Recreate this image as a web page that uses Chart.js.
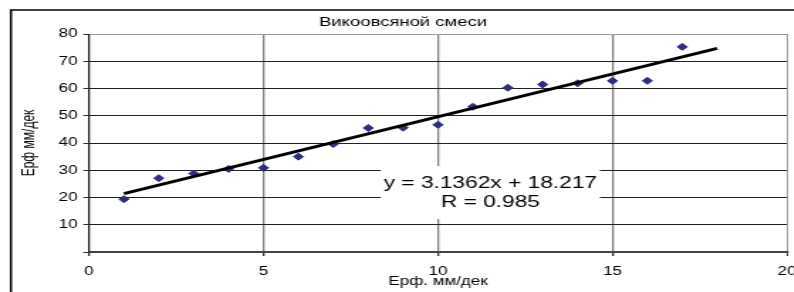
<!DOCTYPE html>
<html>
<head>
<meta charset="utf-8">
<script src="https://cdn.jsdelivr.net/npm/chart.js@4/dist/chart.umd.min.js"></script>
<style>
  html, body { margin: 0; padding: 0; background: #fff; overflow: hidden; }
  /* o original está esticado na horizontal, por isso o scaleX */
  #wrap { position: absolute; left: 0; top: 0; width: 575px; height: 292px; transform: scaleX(1.42); transform-origin: 0 0; }
</style>
</head>
<body>
<div id="wrap"><canvas id="grafico" width="575" height="292"></canvas></div>
<script>
// dados
const pontosX = [1, 2, 3, 4, 5, 6, 7, 8, 9, 10, 11, 12, 13, 14, 15, 16, 17];
const pontosY = [19.4, 27.1, 28.8, 30.5, 30.9, 35.0, 39.6, 45.5, 45.6, 46.7, 53.3, 60.3, 61.5, 61.9, 62.8, 62.8, 75.3];
const tendenciaX = [1, 18];
const tendenciaY = [21.4, 74.7];
const ticksX = [0, 5, 10, 15, 20];
const ticksY = [10, 20, 30, 40, 50, 60, 70, 80];
const titulo = "Викоовсяной смеси";
const tituloX = "Ерф. мм/дек";
const tituloY = "Ерф мм/дек";
const equacaoLinhas = ["y = 3.1362x + 18.217", "R = 0.985"];

const fonte = '"Liberation Sans", Arial, sans-serif';

const moldura = {
  id: "moldura",
  beforeDraw(chart) {
    const ctx = chart.ctx;
    ctx.save();
    ctx.fillStyle = "#fff";
    ctx.fillRect(0, 0, chart.width, chart.height);
    ctx.strokeStyle = "#000";
    ctx.lineWidth = 1.5;
    ctx.strokeRect(7.7, 10, chart.width + 20, chart.height + 20);
    ctx.restore();
  }
};

const etiquetaEquacao = {
  id: "etiquetaEquacao",
  afterDatasetsDraw(chart) {
    const { ctx, scales: { x, y } } = chart;
    const cx = x.getPixelForValue(11.5);
    const cy = y.getPixelForValue(21.8);
    ctx.save();
    ctx.font = "16px " + fonte;
    const w = Math.max(...equacaoLinhas.map(t => ctx.measureText(t).width)) + 4;
    ctx.fillStyle = "#fff";
    ctx.fillRect(cx - w / 2, cy - 26.5, w, 53);
    ctx.fillStyle = "#000";
    ctx.textAlign = "center";
    ctx.textBaseline = "middle";
    ctx.fillText(equacaoLinhas[0], cx, cy - 9.5);
    ctx.fillText(equacaoLinhas[1], cx, cy + 9.5);
    ctx.restore();
  }
};

function iniciarGrafico() {
  const ctx = document.getElementById("grafico").getContext("2d");
  new Chart(ctx, {
    type: "scatter",
    data: {
      datasets: [
        {
          label: "tendencia",
          type: "line",
          data: tendenciaX.map((v, i) => ({ x: v, y: tendenciaY[i] })),
          borderColor: "#000",
          borderWidth: 3,
          pointRadius: 0,
          fill: false,
          order: 0
        },
        {
          label: "pontos",
          data: pontosX.map((v, i) => ({ x: v, y: pontosY[i] })),
          pointStyle: "rectRot",
          pointRadius: 3.5,
          backgroundColor: "#2d2d7e",
          borderColor: "#2d2d7e",
          borderWidth: 1,
          order: 1
        }
      ]
    },
    options: {
      responsive: false,
      animation: false,
      layout: { padding: { left: 13.4, right: 20.8, top: 0, bottom: 0 } },
      plugins: {
        legend: { display: false },
        tooltip: { enabled: false },
        title: {
          display: true,
          text: titulo,
          color: "#000",
          font: { family: fonte, size: 13, weight: "normal" },
          padding: { top: 14.2, bottom: 4.2 }
        }
      },
      scales: {
        x: {
          type: "linear",
          min: 0,
          max: 20,
          afterBuildTicks: s => { s.ticks = ticksX.map(v => ({ value: v })); },
          afterFit: s => { s.height = 40; },
          ticks: { color: "#000", font: { family: fonte, size: 12 }, padding: 8, maxRotation: 0 },
          grid: {
            color: c => c.tick.value === 0 ? "#333" : (c.tick.value === 20 ? "#999" : "#808080"),
            lineWidth: c => c.tick.value === 20 ? 1 : 1.3,
            tickLength: 4,
            tickColor: "#333"
          },
          border: { color: "#444", width: 2 },
          title: {
            display: true,
            text: tituloX,
            color: "#000",
            font: { family: fonte, size: 12 },
            padding: { top: 0, bottom: 3 }
          }
        },
        y: {
          min: 0,
          max: 80,
          afterBuildTicks: s => { s.ticks = [0].concat(ticksY).map(v => ({ value: v })); },
          afterFit: s => { s.width = 49.3; },
          ticks: {
            color: "#000",
            font: { family: fonte, size: 12 },
            padding: 4,
            callback: v => v === 0 ? "" : v
          },
          grid: {
            color: c => c.tick.value === 80 ? "#999" : "#222",
            lineWidth: 1,
            tickLength: 4,
            tickColor: "#333"
          },
          border: { color: "#222", width: 1 },
          title: {
            display: true,
            text: tituloY,
            color: "#000",
            font: { family: fonte, size: 12 },
            padding: { top: 0, bottom: 0 }
          }
        }
      }
    },
    plugins: [moldura, etiquetaEquacao]
  });
}

document.addEventListener("DOMContentLoaded", iniciarGrafico);
</script>
</body>
</html>
